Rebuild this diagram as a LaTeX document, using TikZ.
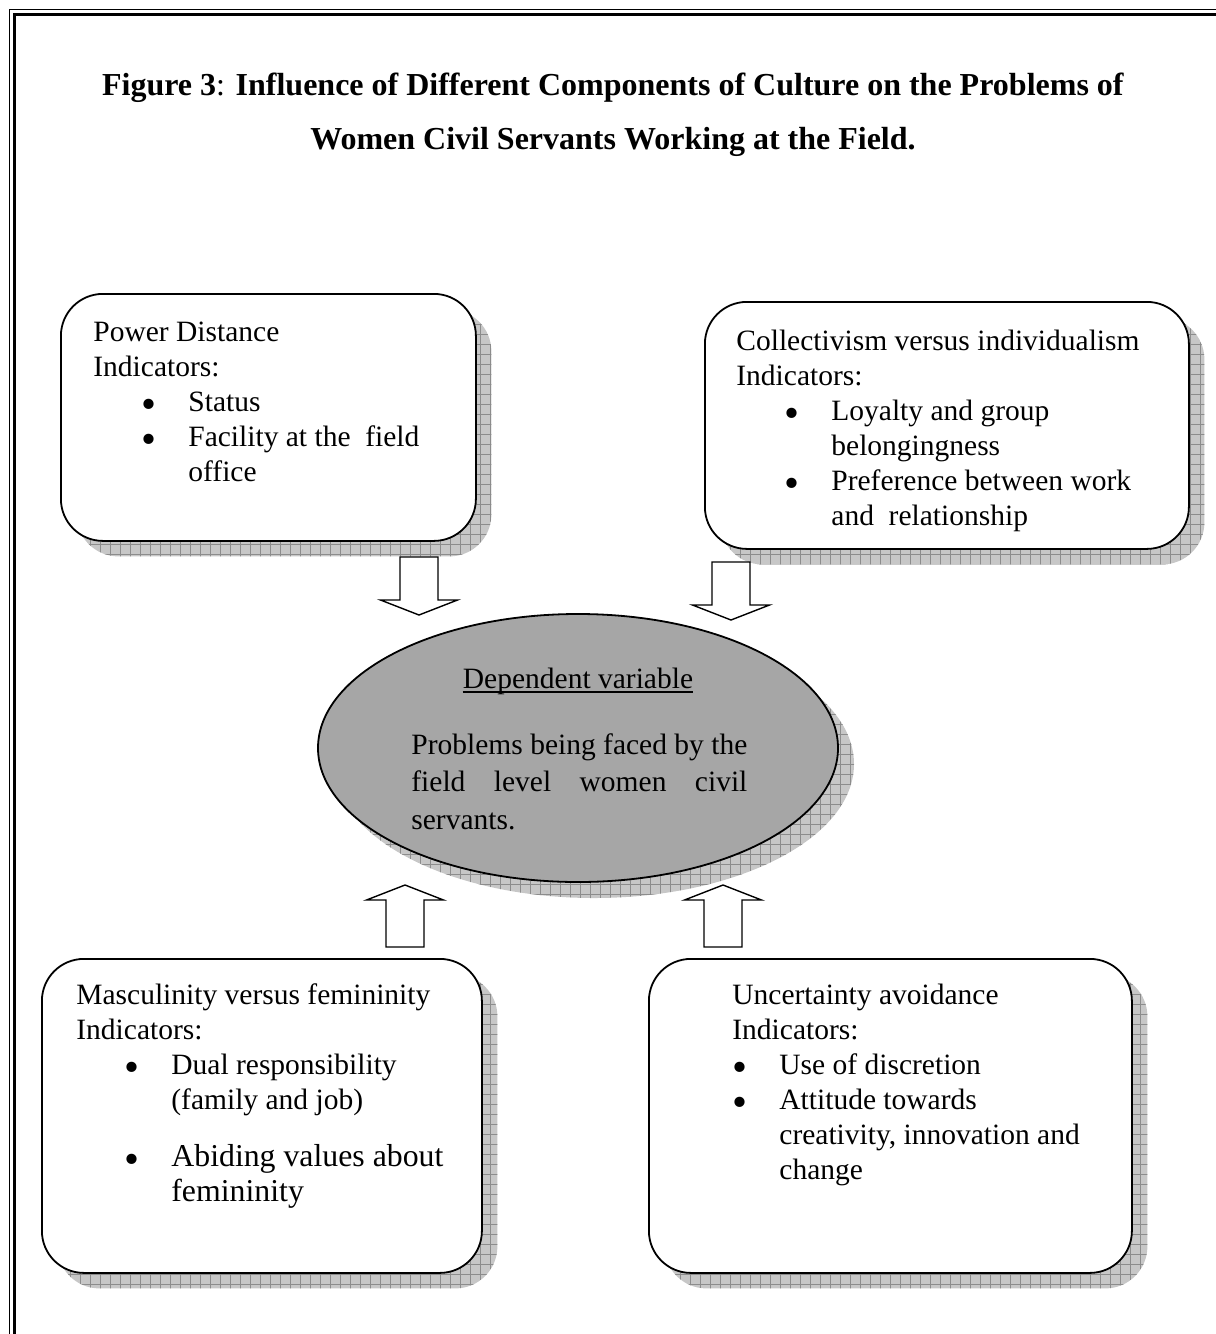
\documentclass[tikz,border=0pt]{standalone}
\usepackage{fontspec}
\setmainfont{Liberation Serif}
\usepackage{tikz}
\usetikzlibrary{shapes.geometric,patterns}
\pgfdeclarepatternformonly{shadegrid}{\pgfqpoint{-1pt}{-1pt}}{\pgfqpoint{6pt}{6pt}}{\pgfqpoint{5pt}{5pt}}{%
  \pgfsetlinewidth{0.35pt}%
  \pgfpathmoveto{\pgfqpoint{0pt}{0pt}}\pgfpathlineto{\pgfqpoint{5.1pt}{0pt}}%
  \pgfpathmoveto{\pgfqpoint{0pt}{0pt}}\pgfpathlineto{\pgfqpoint{0pt}{5.1pt}}%
  \pgfusepath{stroke}}
\newcommand{\bigbul}{\smash{\raisebox{-3.5pt}{\scalebox{1.45}{\textbullet}}}}
\newcommand{\bul}{\hspace*{24pt}\makebox[23.5pt][l]{\bigbul}}
\newcommand{\cont}{\hspace*{47.5pt}}

\begin{document}
\begin{tikzpicture}[x=0.5pt,y=-0.5pt,
  txt/.style={anchor=north west,align=left,inner sep=0pt,font=\fontsize{14.75}{17.5}\selectfont},
  card/.style={draw,line width=0.9pt,fill=white,rounded corners=21pt,anchor=north west,inner sep=0pt},
  cardshadow/.style={fill=black!22,postaction={pattern=shadegrid,pattern color=black!45},rounded corners=21pt,anchor=north west,inner sep=0pt}]
  \useasboundingbox (0,0) rectangle (1216,1334);
  % page frame, thin outside, thick inside
  \draw[line width=0.5pt] (9.5,1334) -- (9.5,9.5) -- (1216,9.5);
  \draw[line width=1.5pt] (14.5,1334) -- (14.5,14.5) -- (1216,14.5);

  % title
  \node[anchor=north,inner sep=0pt,font=\fontsize{16}{27}\selectfont,align=center] (title) at (613,73)
    {\textbf{Figure 3}: \textbf{Influence of Different Components of Culture on the Problems of}\\
     \textbf{Women Civil Servants Working at the Field.}};

  % shadows
  \node[cardshadow,minimum width=207.5pt,minimum height=123.5pt] (pdsh) at (76,309) {};
  \node[cardshadow,minimum width=242pt,minimum height=123.5pt] (cish) at (720,317) {};
  \node[cardshadow,minimum width=220pt,minimum height=157pt] (mfsh) at (57,974) {};
  \node[cardshadow,minimum width=241.5pt,minimum height=157pt] (uash) at (664,974) {};
  \node[ellipse,fill=black!22,postaction={pattern=shadegrid,pattern color=black!45},
    minimum width=260pt,minimum height=134pt,inner sep=0pt] (depsh) at (594,764) {};

  % the four boxes
  \node[card,minimum width=207.5pt,minimum height=123.5pt] (pd) at (60,293) {};
  \node[card,minimum width=242pt,minimum height=123.5pt] (ci) at (704,301) {};
  \node[card,minimum width=220pt,minimum height=157pt] (mf) at (41,958) {};
  \node[card,minimum width=241.5pt,minimum height=157pt] (ua) at (648,958) {};

  % centre ellipse
  \node[ellipse,draw,line width=0.9pt,fill=black!35,minimum width=260pt,minimum height=134pt,inner sep=0pt] (dep) at (578,748) {};

  % block arrows
  \foreach \tx/\ty in {419/615,731/620} {
    \draw[line width=0.7pt,fill=white] (\tx-19,\ty-58) -- (\tx+19,\ty-58) -- (\tx+19,\ty-15) -- (\tx+38.5,\ty-15)
      -- (\tx,\ty) -- (\tx-38.5,\ty-15) -- (\tx-19,\ty-15) -- cycle;
  }
  \foreach \tx/\ty in {405/885,723/885} {
    \draw[line width=0.7pt,fill=white] (\tx-19,\ty+62) -- (\tx+19,\ty+62) -- (\tx+19,\ty+15) -- (\tx+38.5,\ty+15)
      -- (\tx,\ty) -- (\tx-38.5,\ty+15) -- (\tx-19,\ty+15) -- cycle;
  }

  % texts
  \node[txt] (pdtxt) at (93,322) {Power Distance\\Indicators:\\\bul Status\\\bul Facility at the\ \ field\\\cont office};
  \node[txt] (citxt) at (736,330) {Collectivism versus individualism\\Indicators:\\\bul Loyalty and group\\\cont belongingness\\\bul Preference between work\\\cont and\ \ relationship};
  \node[txt] (mftxt) at (76,983) {Masculinity versus femininity\\Indicators:\\\bul Dual responsibility\\\cont (family and job)\\[11pt]
    \bul{\fontsize{15.9}{17.5}\selectfont Abiding values about}\\\cont{\fontsize{15.9}{17.5}\selectfont femininity}};
  \node[txt] (uatxt) at (732,984) {Uncertainty avoidance\\Indicators:\\\makebox[23.5pt][l]{\bigbul}Use of discretion\\
    \makebox[23.5pt][l]{\bigbul}Attitude towards\\\hspace*{23.5pt}creativity, innovation and\\\hspace*{23.5pt}change};

  \node[anchor=base,inner sep=0pt,font=\fontsize{14.75}{17.5}\selectfont] (deptitle) at (578,688) {Dependent variable};
  \draw[line width=0.6pt] ([yshift=-2pt]deptitle.base west) -- ([yshift=-2pt]deptitle.base east);
  \node[anchor=north west,inner sep=0pt,font=\fontsize{14.75}{18.75}\selectfont,text width=168pt,align=justify] (deptxt) at (411,733)
    {Problems being faced by the\linebreak field level women civil\linebreak servants.};
\end{tikzpicture}
\end{document}
